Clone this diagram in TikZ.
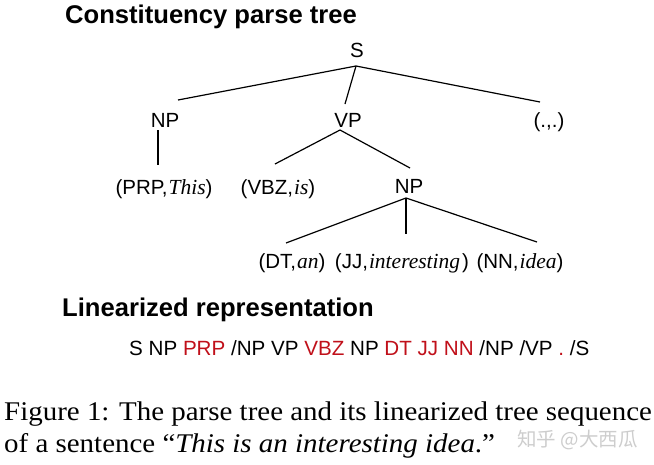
\documentclass[tikz,border=0pt]{standalone}
\usepackage{fontspec}
\usepackage{graphicx}
\setmainfont{Liberation Serif}
\setsansfont{Liberation Sans}
\newfontfamily\cjk{Noto Sans CJK SC}
\definecolor{seqred}{RGB}{192,16,26}
\definecolor{wmgray}{RGB}{205,205,205}
\newcommand{\itw}[1]{{\rmfamily\itshape\fontsize{21.5}{24}\selectfont #1}}
\begin{document}
\begin{tikzpicture}[x=1pt,y=-1pt,
  lab/.style={anchor=base,inner sep=0pt,font=\sffamily\fontsize{20.5}{22}\selectfont},
  head/.style={anchor=base west,inner sep=0pt,font=\sffamily\bfseries\fontsize{25.6}{28}\selectfont},
  seq/.style={anchor=base west,inner sep=0pt,font=\sffamily\fontsize{20.6}{22}\selectfont},
  captxt/.style={anchor=base west,inner sep=0pt,font=\rmfamily\fontsize{27}{30}\selectfont},
  treeline/.style={line width=1.2pt,black}]
\useasboundingbox (0,0) rectangle (654,464);
\node[head] (t1) at (65,23) {Constituency parse tree};
\node[lab] (S) at (357,57) {S};
\node[lab] (np1) at (165,127) {NP};
\node[lab] (vp) at (348,127) {VP};
\node[lab] (dot) at (549,127) {(.,.)};
\node[lab] (prp) at (164,194) {(PRP,\kern1pt\itw{This})};
\node[lab] (vbz) at (278,194) {(VBZ,\kern1pt\itw{is})};
\node[lab] (np2) at (409,193) {NP};
\node[lab] (dt) at (292,268) {(DT,\kern1pt\itw{an})};
\node[lab] (jj) at (402,268) {(JJ,\kern1pt\itw{interesting}\kern2pt)};
\node[lab] (nn) at (520,268) {(NN,\kern1pt\itw{idea})};
\draw[treeline] ([shift={(-1,9)}]S.base) -- ([shift={(13,-27)}]np1.base);
\draw[treeline] ([shift={(-1,9)}]S.base) -- ([shift={(-3,-23)}]vp.base);
\draw[treeline] ([shift={(-1,9)}]S.base) -- ([shift={(-9,-25)}]dot.base);
\draw[treeline] ([shift={(-7,3)}]np1.base) -- ([shift={(-6,-29)}]prp.base);
\draw[treeline] ([shift={(-8,3)}]vp.base) -- ([shift={(-3,-30)}]vbz.base);
\draw[treeline] ([shift={(-8,3)}]vp.base) -- ([shift={(1,-25)}]np2.base);
\draw[treeline] ([shift={(-3,5)}]np2.base) -- ([shift={(-6,-25)}]dt.base);
\draw[treeline] ([shift={(-3,5)}]np2.base) -- ([shift={(4,-34)}]jj.base);
\draw[treeline] ([shift={(-3,5)}]np2.base) -- ([shift={(17,-26)}]nn.base);
\node[head] (t2) at (62,316) {Linearized representation};
\node[seq] (sq) at (129,355) {S NP \textcolor{seqred}{PRP} /NP VP \textcolor{seqred}{VBZ} NP \textcolor{seqred}{DT JJ NN} /NP /VP \textcolor{seqred}{.} /S};
\node[captxt] (c1) at (4,420) {\scalebox{1.072}[1]{Figure 1: The parse tree and its linearized tree sequence}};
\node[captxt] (c2) at (4,452) {\scalebox{1.072}[1]{of a sentence \textquotedblleft\textit{This is an interesting idea}.\textquotedblright}};
\node[anchor=base west,inner sep=0pt,font=\cjk\fontsize{19.5}{22}\selectfont,text=wmgray] (wm) at (517,446) {知乎 @大西瓜};
\end{tikzpicture}
\end{document}
